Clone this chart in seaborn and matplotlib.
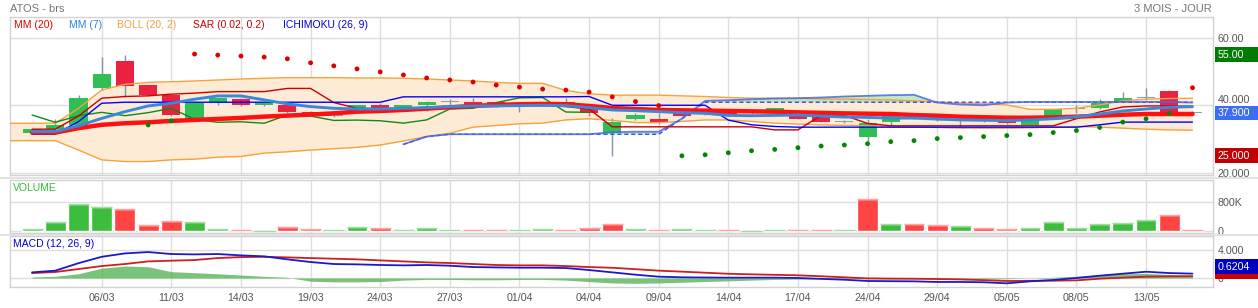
import numpy as np
import matplotlib
matplotlib.use("Agg")
import matplotlib.pyplot as plt
from matplotlib.patches import Rectangle
from matplotlib.lines import Line2D
import seaborn as sns

sns.set_theme(style="white")
plt.rcParams['font.family'] = ['Liberation Sans', 'DejaVu Sans']

# ---------------- data ----------------
dates = ['03/03', '04/03', '05/03', '06/03', '07/03', '10/03', '11/03', '12/03', '13/03', '14/03',
         '17/03', '18/03', '19/03', '20/03', '21/03', '24/03', '25/03', '26/03', '27/03', '28/03',
         '31/03', '01/04', '02/04', '03/04', '04/04', '07/04', '08/04', '09/04', '10/04', '11/04',
         '14/04', '15/04', '16/04', '17/04', '22/04', '23/04', '24/04', '25/04', '28/04', '29/04',
         '30/04', '02/05', '05/05', '06/05', '07/05', '08/05', '09/05', '12/05', '13/05', '14/05',
         '15/05']

open_ = [31.9, 32.9, 34.2, 45.0, 53.1, 45.9, 43.0, 36.0, 40.9, 42.0,
         40.0, 40.0, 38.0, 37.0, 38.4, 40.0, 39.1, 40.0, 41.0, 41.0,
         40.9, 39.6, 40.8, 40.9, 39.4, 31.9, 35.85, 35.9, 38.1, 37.9,
         38.1, 37.8, 37.9, 38.1, 36.8, 35.1, 30.7, 34.9, 36.2, 36.4,
         35.3, 35.6, 35.45, 34.2, 36.8, 39.1, 39.1, 41.1, 42.3, 44.25, 37.9]
close = [33.0, 34.2, 42.1, 49.3, 45.8, 42.9, 37.0, 40.8, 42.1, 40.0,
         40.8, 37.9, 37.0, 37.0, 40.0, 38.1, 40.0, 41.0, 41.0, 40.0,
         39.6, 39.9, 40.1, 39.8, 37.8, 35.0, 37.1, 34.95, 36.9, 37.9,
         36.9, 37.8, 39.1, 35.85, 34.95, 35.1, 34.66, 37.1, 36.8, 35.5,
         35.6, 35.4, 34.7, 35.65, 38.9, 39.1, 40.8, 42.2, 42.3, 38.0, 37.9]
high = [33.1, 35.9, 43.1, 54.2, 55.0, 46.0, 43.1, 41.0, 42.2, 42.1,
        40.9, 40.1, 38.2, 37.4, 40.2, 40.6, 40.2, 41.2, 41.8, 42.1,
        41.0, 40.8, 41.0, 42.1, 39.6, 36.2, 37.6, 37.6, 39.2, 38.6,
        38.4, 38.6, 39.3, 38.3, 37.0, 35.6, 36.0, 37.3, 37.2, 36.6,
        36.6, 35.8, 35.6, 35.8, 39.0, 40.1, 41.8, 44.05, 45.0, 44.5, 38.2]
low = [31.8, 32.8, 34.0, 44.6, 42.4, 42.7, 36.9, 35.2, 40.1, 39.9,
       39.9, 37.8, 36.9, 36.5, 38.2, 37.9, 38.7, 38.2, 40.0, 39.9,
       39.5, 38.1, 40.0, 39.7, 36.8, 25.0, 35.7, 34.5, 36.8, 37.2,
       36.8, 37.3, 37.8, 35.8, 34.9, 34.7, 29.5, 34.2, 36.0, 35.4,
       33.5, 35.1, 34.5, 34.1, 36.1, 37.6, 39.0, 41.0, 41.6, 37.9, 37.7]
volume_k = [64, 267, 764, 672, 616, 175, 294, 267, 74, 37,
            18, 120, 64, 37, 110, 92, 37, 92, 28, 28,
            28, 28, 64, 37, 92, 202, 64, 46, 64, 28,
            37, 9, 28, 46, 28, 28, 892, 202, 193, 166,
            138, 83, 55, 101, 258, 92, 193, 221, 313, 442, 28]

mm20 = [31.9, 31.9, 33.2, 34.2, 34.66, 34.95, 35.35, 35.65, 35.94, 36.24,
        36.63, 36.93, 37.23, 37.6, 38.1, 38.3, 38.6, 39.0, 39.4, 39.8,
        40.1, 40.3, 40.4, 40.3, 39.8, 39.2, 38.9, 38.6, 38.5, 38.4,
        38.3, 38.2, 38.1, 37.9, 37.75, 37.6, 37.5, 37.4, 37.1, 36.9,
        36.6, 36.45, 36.3, 36.3, 36.4, 36.6, 36.9, 37.2, 37.4, 37.4, 37.4]
mm7 = [32.2, 32.2, 33.9, 36.1, 38.1, 39.8, 40.6, 41.8, 42.77, 42.77,
       41.6, 40.4, 39.6, 39.1, 38.9, 38.9, 39.1, 39.3, 39.6, 39.8,
       39.8, 39.9, 40.0, 39.9, 39.3, 38.6, 38.4, 38.1, 37.8, 37.6,
       37.0, 36.9, 37.0, 37.1, 36.8, 36.5, 36.4, 36.2, 36.2, 35.9,
       35.65, 35.55, 35.45, 35.65, 36.0, 36.6, 37.4, 38.3, 38.9, 39.4, 39.6]
# Bollinger bands start one session before the first candle
boll_up = [34.66, 34.66, 34.66, 39.1, 44.55, 46.2, 46.8, 47.0, 47.2, 47.5, 47.8,
           48.0, 48.2, 48.2, 48.2, 48.1, 48.1, 48.0, 47.8, 47.5, 47.2,
           46.8, 46.5, 46.5, 44.4, 43.4, 43.0, 43.0, 43.0, 42.8, 42.6,
           42.3, 42.1, 42.1, 42.1, 41.9, 41.8, 41.7, 41.6, 41.3, 41.0,
           40.6, 40.4, 40.1, 38.8, 38.8, 39.1, 40.1, 41.3, 41.8, 42.0, 42.1]
boll_low = [29.5, 29.5, 29.5, 26.7, 23.8, 23.3, 23.3, 23.8, 24.0, 24.6, 24.8,
            25.8, 26.2, 26.7, 27.1, 27.5, 28.2, 29.4, 30.7, 31.7, 33.5,
            34.0, 34.5, 34.7, 35.65, 36.0, 35.5, 34.86, 34.86, 35.2, 35.65,
            35.65, 35.2, 34.7, 34.4, 34.2, 34.0, 33.9, 33.7, 33.5, 33.4,
            33.2, 33.2, 33.2, 33.3, 33.5, 33.7, 33.5, 33.2, 32.9, 32.7, 32.6]
nan = np.nan
sar = [nan, nan, nan, nan, nan, 34.16, 35.35, 55.2, 54.9, 54.6,
       54.3, 53.8, 52.6, 51.7, 50.8, 49.9, 49.0, 48.1, 47.5, 46.9,
       46.0, 45.4, 44.8, 44.5, 43.9, 42.5, 41.1, 39.9, 25.0, 25.3,
       25.9, 26.5, 26.9, 27.4, 27.9, 28.2, 28.6, 29.2, 29.5, 30.1,
       30.4, 30.7, 31.0, 31.3, 31.9, 32.5, 33.4, 35.0, 36.0, 37.6, 45.2]
tenkan = [32.9, 32.9, 36.8, 42.1, 42.6, 42.8, 43.3, 43.6, 44.05, 44.05,
          44.05, 45.0, 45.0, 40.8, 39.1, 39.0, 39.0, 39.1, 39.6, 39.9,
          40.0, 39.9, 39.9, 39.6, 38.9, 33.6, 33.6, 33.6, 33.6, 33.6,
          33.6, 33.6, 32.7, 32.7, 37.0, 37.0, 34.6, 33.9, 33.9, 33.9,
          33.9, 33.9, 33.9, 33.9, 33.9, 36.0, 38.0, 39.5, 39.8, 39.8, 39.7]
kijun = [31.4, 31.4, 35.15, 40.6, 40.9, 40.9, 40.9, 40.9, 40.9, 40.9,
         40.9, 40.9, 40.9, 40.9, 40.9, 40.9, 42.5, 42.5, 42.5, 42.5,
         42.5, 42.5, 42.5, 42.5, 42.6, 40.0, 40.0, 40.0, 40.0, 40.0,
         35.6, 34.2, 33.7, 33.5, 33.5, 33.5, 33.5, 33.5, 33.5, 33.5,
         33.5, 33.5, 33.5, 33.5, 33.5, 33.5, 34.2, 35.0, 35.0, 35.0, 35.0]
senkou_a = [nan] * 16 + [28.4, 30.7, 31.4, 31.4, 31.4, 31.4, 31.4, 31.4, 31.4,
                         32.0, 32.15, 32.15, 36.0, 41.3, 41.5, 41.8, 42.0, 42.1, 42.3,
                         42.6, 42.8, 43.0, 43.1, 40.8, 40.2, 40.0, 40.8, 41.0, 41.0,
                         41.0, 41.0, 41.0, 41.0, 41.0, 40.8]
senkou_b = [nan] * 16 + [28.4, 30.7] + [31.4] * 10 + [36.0] + [40.9] * 22

macd = [0.8, 1.04, 2.1, 3.0, 3.48, 3.67, 3.39, 3.34, 3.39, 3.2,
        3.06, 2.64, 2.26, 1.98, 1.93, 1.84, 1.79, 1.84, 1.74, 1.55,
        1.5, 1.46, 1.46, 1.41, 1.13, 0.8, 0.47, 0.19, 0.1, 0.07,
        0.05, 0.05, 0.05, 0.0, -0.12, -0.24, -0.42, -0.45, -0.47, -0.56,
        -0.56, -0.6, -0.75, -0.47, -0.28, 0.0, 0.33, 0.61, 0.89, 0.7, 0.6204]
signal = [0.7, 0.85, 1.27, 1.69, 1.98, 2.35, 2.45, 2.54, 2.82, 2.96,
          3.0, 2.92, 2.82, 2.73, 2.64, 2.49, 2.35, 2.21, 2.12, 1.98,
          1.84, 1.79, 1.79, 1.69, 1.55, 1.45, 1.25, 1.04, 0.9, 0.75,
          0.6, 0.52, 0.45, 0.38, 0.25, 0.1, -0.05, -0.08, -0.1, -0.14,
          -0.2, -0.3, -0.42, -0.4, -0.38, -0.33, -0.1, 0.05, 0.19, 0.24, 0.26]
hist = [0.14, 0.24, 0.6, 1.4, 1.7, 1.6, 0.9, 0.75, 0.6, 0.42,
        0.24, 0.1, -0.45, -0.55, -0.55, -0.5, -0.3, -0.2, -0.2, -0.25,
        -0.25, -0.2, -0.2, -0.3, -0.5, -0.7, -0.75, -0.7, -0.6, -0.5,
        -0.4, -0.3, -0.2, -0.15, -0.1, -0.05, -0.1, -0.12, -0.1, -0.1,
        -0.12, -0.15, -0.1, 0.0, 0.1, 0.25, 0.45, 0.6, 0.65, 0.5, 0.36]

period_high_label = '55.00'
period_low_label = '25.000'
last_label = '37.900'
macd_label = '0.6204'
price_ticks = [20, 40, 60]
price_tick_labels = ['20.000', '40.000', '60.00']
vol_ticks = [0, 800000]
vol_tick_labels = ['0', '800K']
macd_ticks = [0, 4]
macd_tick_labels = ['0', '4.000']

# ---------------- layout ----------------
n = len(dates)
idx = np.arange(n)
boll_idx = np.arange(-1, n)
o = np.array(open_); c = np.array(close); h = np.array(high); l = np.array(low)
volume = np.array(volume_k) * 1000.0

W, H = 1258, 308
fig = plt.figure(figsize=(W / 100, H / 100), dpi=100)
fig.patch.set_facecolor('white')


def add_ax(x0, y0, x1, y1):
    return fig.add_axes([x0 / W, 1 - y1 / H, (x1 - x0) / W, (y1 - y0) / H])


ax = add_ax(10, 17, 1213, 175)
axv = add_ax(10, 180, 1213, 233)
axm = add_ax(10, 236, 1213, 287)


def line(a, x, y, **kw):
    x = np.asarray(x, dtype=float); y = np.asarray(y, dtype=float)
    m = ~np.isnan(y)
    sns.lineplot(x=x[m], y=y[m], ax=a, estimator=None, errorbar=None,
                 legend=False, sort=False, **kw)


# ---- main price panel ----
ax.fill_between(boll_idx, boll_low, boll_up, color='#fdebd6', lw=0, zorder=1)
sa = np.array(senkou_a); sb = np.array(senkou_b)
with np.errstate(invalid='ignore'):
    ax.fill_between(idx, sa, sb, where=sa >= sb, interpolate=True,
                    color='#9edf9a', alpha=0.65, lw=0, zorder=1.5)
    ax.fill_between(idx, sa, sb, where=sa < sb, interpolate=True,
                    color='#b4b4f2', alpha=0.65, lw=0, zorder=1.5)

ax.vlines(idx, l, h, color='#8094ad', lw=1, zorder=2)
body_h = np.abs(c - o)
is_doji = body_h < 0.05
body_col = np.where(is_doji, '#8d9cb0', np.where(c > o, '#2ebf55', '#ea2141'))
body_bottom = np.where(is_doji, o - 0.15, np.minimum(o, c))
body_h = np.where(is_doji, 0.3, body_h)
ax.bar(idx, body_h, bottom=body_bottom, width=0.78, color=body_col, lw=0, zorder=3)

line(ax, boll_idx, boll_up, color='#f5a23e', linewidth=1.0, zorder=4)
line(ax, boll_idx, boll_low, color='#f5a23e', linewidth=1.0, zorder=4)
line(ax, idx, senkou_b, color='#3347ff', linewidth=1.0, linestyle=(0, (3, 2)), zorder=4)
line(ax, idx, senkou_a, color='#4a6be0', linewidth=1.3, alpha=0.85, zorder=4)
line(ax, idx[:n - 26], close[26:], color='#118a11', linewidth=1.0, zorder=4)
line(ax, idx, tenkan, color='#cc0000', linewidth=1.0, zorder=4)
line(ax, idx, kijun, color='#0000ff', linewidth=1.0, zorder=4)
line(ax, idx, mm20, color='#ff1010', linewidth=3.2, zorder=5)
line(ax, idx, mm7, color='#3a88dc', linewidth=2.1, zorder=6)

sar_arr = np.array(sar)
m = ~np.isnan(sar_arr)
side = np.where(sar_arr[m] > c[m], 'above', 'below')
sns.scatterplot(x=idx[m], y=sar_arr[m], hue=side,
                palette={'above': '#dd0000', 'below': '#008800'},
                s=12, linewidth=0, legend=False, zorder=7, ax=ax)

# ---- volume panel ----
vol_dir = np.array(['up' if (i == 0 and c[0] >= o[0]) or (i > 0 and c[i] >= c[i - 1]) else 'down'
                    for i in range(n)])
sns.barplot(x=idx, y=volume, hue=vol_dir, palette={'up': '#3dbd3d', 'down': '#ff4444'},
            native_scale=True, width=0.9, dodge=False, errorbar=None, legend=False,
            saturation=1, ax=axv, zorder=3)
cap_col = np.where(vol_dir == 'up', '#9fdc9f', '#ffa3a3')
axv.hlines(volume, idx - 0.45, idx + 0.45, colors=cap_col, lw=1.0, zorder=4)

# ---- MACD panel ----
axm.fill_between(idx, 0, hist, color='#4fae4f', alpha=0.75, lw=0, zorder=2)
line(axm, idx, signal, color='#cc1f1f', linewidth=1.3, zorder=3)
line(axm, idx, macd, color='#1a1acc', linewidth=1.3, zorder=4)

# ---------------- styling ----------------
ax.set_ylim(19.3, 66.2)
axv.set_ylim(-47e3, 1415e3)
axm.set_ylim(-1.27, 5.94)
ax.set_yticks(price_ticks); ax.set_yticklabels(price_tick_labels)
axv.set_yticks(vol_ticks); axv.set_yticklabels(vol_tick_labels)
axm.set_yticks(macd_ticks); axm.set_yticklabels(macd_tick_labels)

for a in (ax, axv, axm):
    a.set_xlim(-0.952, 50.885)
    a.set_facecolor('white')
    a.set_xlabel(''); a.set_ylabel('')
    for s in a.spines.values():
        s.set_color('#d2d2d2'); s.set_linewidth(1)
    a.set_xticks(idx[3::3])
    a.grid(True, axis='both', color='#dedede', lw=1)
    a.set_axisbelow(True)
    a.yaxis.tick_right()
    a.tick_params(axis='both', length=0, labelsize=7.7, labelcolor='#555555', pad=3.6)
ax.set_xticklabels([]); axv.set_xticklabels([])
axm.set_xticklabels(dates[3::3])
axm.tick_params(axis='x', pad=4.5)
# nudge the 40.000 label up a little so the last-price box only grazes it
for lab in ax.get_yticklabels():
    if lab.get_text() == '40.000':
        lab.set_va('bottom')

for yy in (178, 234.5):
    fig.add_artist(Line2D([0, 1], [1 - yy / H] * 2, color='#e2e2e2', lw=1.5))

# titles and legends
fig.text(10 / W, 1 - 9 / H, 'ATOS - brs', color='#777777', fontsize=8, va='center', ha='left')
fig.text(1212 / W, 1 - 9 / H, '3 MOIS - JOUR', color='#777777', fontsize=8, va='center', ha='right')
legend_items = [('MM (20)', '#e00000', 14), ('MM (7)', '#2f7ed8', 69),
                ('BOLL (20, 2)', '#f5a040', 117), ('SAR (0.02, 0.2)', '#cc0000', 193),
                ('ICHIMOKU (26, 9)', '#0000dd', 283)]
for txt, col, xp in legend_items:
    fig.text(xp / W, 1 - 25 / H, txt, color=col, fontsize=7.5, va='center', ha='left')
fig.text(13 / W, 1 - 188 / H, 'VOLUME', color='#33bb33', fontsize=7.5, va='center', ha='left')
fig.text(13 / W, 1 - 244 / H, 'MACD (12, 26, 9)', color='#0000cc', fontsize=7.5, va='center', ha='left')


def value_box(a, val, txt, fc, dy=0.0, height=15.0, show_text=True):
    yc = a.transData.transform((0, val))[1] + dy
    fig.add_artist(Rectangle((1215 / W, (yc - height / 2) / H), 45 / W, height / H,
                             transform=fig.transFigure, fc=fc, ec='none', zorder=5))
    if show_text:
        fig.text(1218 / W, yc / H, txt, color='white', fontsize=7.7, va='center',
                 ha='left', zorder=6)


value_box(ax, max(high), period_high_label, '#007a00')
value_box(ax, close[-1], last_label, '#3d6df5', dy=-0.5, height=14.0)
value_box(ax, min(low), period_low_label, '#c00000')
value_box(axm, signal[-1], '', '#cc0000', dy=5.0, show_text=False)
value_box(axm, macd[-1], macd_label, '#0000c0', dy=7.0)

fig.savefig('out.png', dpi=100, facecolor='white')
